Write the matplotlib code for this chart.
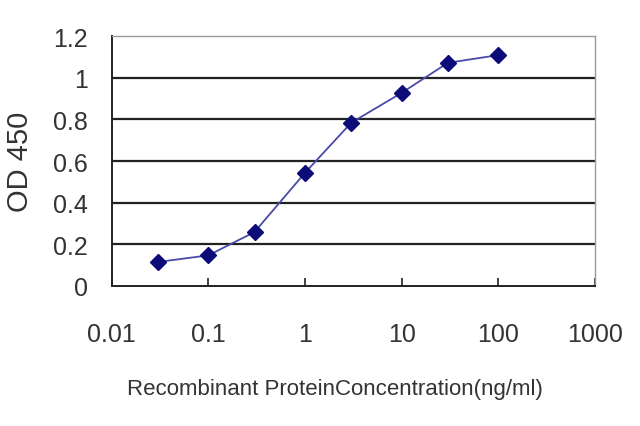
import matplotlib
matplotlib.use("Agg")
import matplotlib.pyplot as plt
from matplotlib.ticker import FixedLocator, FixedFormatter, NullLocator

conc = [0.03, 0.1, 0.3, 1, 3, 10, 30, 100]
od450 = [0.115, 0.147, 0.259, 0.544, 0.784, 0.928, 1.072, 1.109]
xticks = [0.01, 0.1, 1, 10, 100, 1000]
xticklabels = ["0.01", "0.1", "1", "10", "100", "1000"]
yticks = [0, 0.2, 0.4, 0.6, 0.8, 1.0, 1.2]
yticklabels = ["0", "0.2", "0.4", "0.6", "0.8", "1", "1.2"]

plt.rcParams['font.family'] = ['Liberation Sans', 'DejaVu Sans']

fig = plt.figure(figsize=(6.4, 4.27), dpi=100)
ax = fig.add_axes([0.1745, 0.328, 0.7555, 0.585])
ax.set_xscale('log')
ax.set_xlim(0.01, 1000)
ax.set_ylim(0, 1.2)

for y in yticks[1:-1]:
    ax.axhline(y, color='#222222', lw=1.6, zorder=1)

ax.plot(conc, od450, color='#4a4aa8', lw=1.3, zorder=2)
ax.plot(conc, od450, linestyle='none', marker='D', markersize=8,
        color='#0c0c78', zorder=3)

ax.xaxis.set_major_locator(FixedLocator(xticks))
ax.xaxis.set_major_formatter(FixedFormatter(xticklabels))
ax.xaxis.set_minor_locator(NullLocator())
ax.yaxis.set_major_locator(FixedLocator(yticks))
ax.yaxis.set_major_formatter(FixedFormatter(yticklabels))

ax.tick_params(axis='x', direction='in', length=6, width=1.2, pad=26,
               labelsize=18, colors='#222222', labelcolor='#333333')
ax.tick_params(axis='y', direction='out', length=0, width=1.2, pad=17,
               labelsize=18, colors='#222222', labelcolor='#333333')

for side in ['left', 'bottom']:
    ax.spines[side].set_color('#222222')
    ax.spines[side].set_linewidth(1.4)
for side in ['top', 'right']:
    ax.spines[side].set_color('#999999')
    ax.spines[side].set_linewidth(1.0)

ax.set_xlabel('Recombinant ProteinConcentration(ng/ml)', fontsize=16,
              color='#333333')
ax.xaxis.label.set_va('baseline')
ax.xaxis.set_label_coords(0.462, -0.432)

ax.set_ylabel('OD 450', fontsize=21, color='#333333')
ax.yaxis.label.set_va('center')
ax.yaxis.set_label_coords(-0.19, 0.5)

fig.savefig('out.png', dpi=100)
